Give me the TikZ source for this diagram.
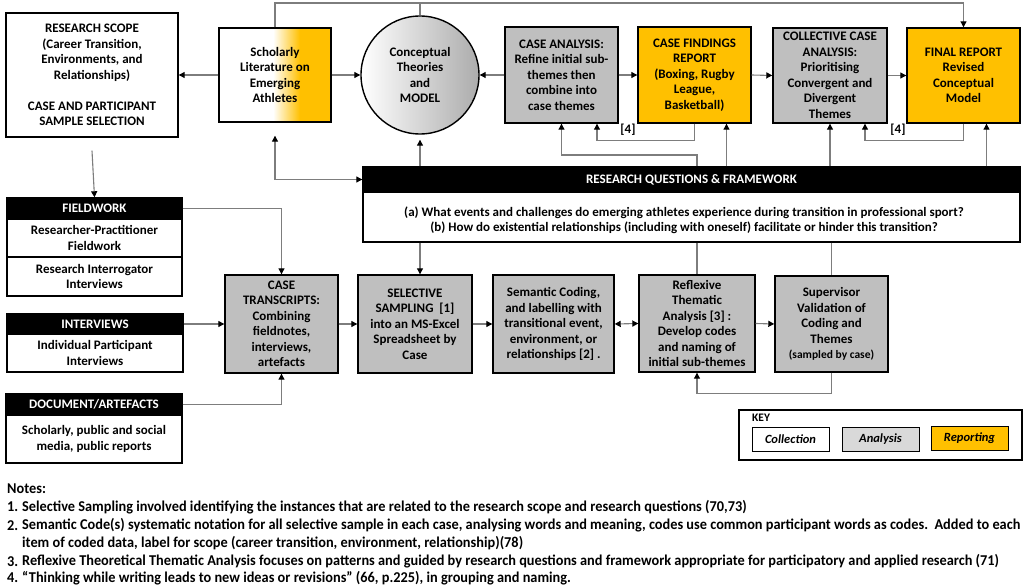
\documentclass[tikz,border=0pt]{standalone}
\usepackage{fontspec}
\setmainfont{Carlito}
\newfontfamily\notesfont[FakeStretch=0.955]{Carlito}
\usetikzlibrary{arrows.meta,calc}
\definecolor{orng}{RGB}{255,192,0}
\definecolor{gbox}{RGB}{191,191,191}
\definecolor{gkey}{RGB}{217,217,217}
\definecolor{conn}{RGB}{125,125,125}
\tikzset{
  box/.style={draw=black, line width=1.4pt, align=center, inner sep=1pt},
  hdr/.style={draw=black, line width=1.4pt, fill=black, text=white, align=center, inner sep=1pt},
  keybox/.style={draw=black, line width=1pt, minimum width=77pt, minimum height=24pt, font=\bfseries\itshape\fontsize{12.5}{14}\selectfont},
  ln/.style={draw=conn, line width=1.1pt},
  arr/.style={ln, -{Triangle[length=6pt,width=6pt,color=black]}},
  arrb/.style={ln, {Triangle[length=6pt,width=6pt,color=black]}-{Triangle[length=6pt,width=6pt,color=black]}},
  note/.style={anchor=west, inner sep=0pt, font=\notesfont\bfseries\fontsize{15}{17}\selectfont}
}
\begin{document}
\begin{tikzpicture}[x=1pt,y=-1pt, font=\bfseries\fontsize{13}{15.5}\selectfont]
\useasboundingbox (0,0) rectangle (1028,585);
\fill[white] (0,0) rectangle (1028,585);

% ---- top row ----
\node[box, minimum width=172pt, minimum height=124pt] (scope) at (92,75)
  {RESEARCH SCOPE\\(Career Transition,\\Environments, and\\Relationships)\\[15.5pt]CASE AND PARTICIPANT\\SAMPLE SELECTION};

\fill[white] (219,28) rectangle (273,122);
\shade[left color=white, right color=orng] (273,28) rectangle (300,122);
\fill[orng] (300,28) rectangle (331,122);
\node[box, minimum width=112pt, minimum height=94pt] (lit) at (275,75)
  {Scholarly\\Literature on\\Emerging\\Athletes};

\node[box, circle, minimum size=118pt, left color=white, right color=gbox!90!black] (circ) at (420,75)
  {Conceptual\\Theories\\and\\MODEL};

\node[box, fill=gbox, minimum width=113pt, minimum height=96pt] (caseA) at (561.5,75)
  {CASE ANALYSIS:\\Refine initial sub-\\themes then\\combine into\\case themes};
\node[box, fill=orng, minimum width=113pt, minimum height=96pt] (findings) at (694.5,75)
  {CASE FINDINGS\\REPORT\\(Boxing, Rugby\\League,\\Basketball)};
\node[box, fill=gbox, minimum width=114pt, minimum height=95pt] (collective) at (830,75.5)
  {COLLECTIVE CASE\\ANALYSIS:\\Prioritising\\Convergent and\\Divergent\\Themes};
\node[box, fill=orng, minimum width=113pt, minimum height=95pt] (final) at (963.5,75.5)
  {FINAL REPORT\\Revised\\Conceptual\\Model};

% ---- research questions ----
\node[box, fill=white, minimum width=657pt, minimum height=75pt] (rq) at (691.5,204.5) {};
\node[hdr, minimum width=657pt, minimum height=25pt] (rqh) at (691.5,179.5) {RESEARCH QUESTIONS \& FRAMEWORK};
\node[align=center, inner sep=0pt] (rqq) at (684,220.5)
  {(a) What events and challenges do emerging athletes experience during transition in professional sport?\\
   (b) How do existential relationships (including with oneself) facilitate or hinder this transition?};

% ---- left column ----
\node[hdr, minimum width=175pt, minimum height=21pt] (fwh) at (94.5,208.5) {FIELDWORK};
\node[box, minimum width=175pt, minimum height=38pt] (fw1) at (94.5,238) {Researcher-Practitioner\\Fieldwork};
\node[box, minimum width=175pt, minimum height=39pt] (fw2) at (94.5,276.5) {Research Interrogator\\Interviews};

\node[hdr, minimum width=176pt, minimum height=20pt] (inth) at (95,324) {INTERVIEWS};
\node[box, minimum width=176pt, minimum height=38pt] (intb) at (95,353) {Individual Participant\\Interviews};

\node[hdr, minimum width=176pt, minimum height=21pt] (doch) at (94,404.5) {DOCUMENT/ARTEFACTS};
\node[box, minimum width=176pt, minimum height=48pt] (docb) at (94,439) {Scholarly, public and social\\media, public reports};

% ---- bottom row ----
\node[box, fill=gbox, minimum width=113pt, minimum height=98pt] (trans) at (281.5,324)
  {CASE\\TRANSCRIPTS:\\Combining\\fieldnotes,\\interviews,\\artefacts};
\node[box, fill=gbox, minimum width=114pt, minimum height=98pt] (sel) at (415,324)
  {SELECTIVE\\SAMPLING~~[1]\\into an MS-Excel\\Spreadsheet by\\Case};
\node[box, fill=gbox, minimum width=121pt, minimum height=98pt] (sem) at (553.5,324)
  {Semantic Coding,\\and labelling with\\transitional event,\\environment, or\\relationships [2] .};
\node[box, fill=gbox, minimum width=116pt, minimum height=97pt] (refl) at (697,323.5)
  {Reflexive\\Thematic\\Analysis [3] :\\Develop codes\\and naming of\\initial sub-themes};
\node[box, fill=gbox, minimum width=113pt, minimum height=96pt] (sup) at (831.5,324)
  {Supervisor\\Validation of\\Coding and\\Themes\\{\fontsize{11.5}{15.5}\selectfont(sampled by case)}};

% ---- key ----
\node[draw=black, line width=1.3pt, minimum width=283pt, minimum height=50pt] (key) at (880.5,435) {};
\node[anchor=west, inner sep=0pt, font=\bfseries\fontsize{11.5}{13}\selectfont] (keyt) at (752,418) {KEY};
\node[keybox, fill=white] (kc) at (790.5,439) {Collection};
\node[keybox, fill=gkey] (ka) at (880.5,439) {Analysis};
\node[keybox, fill=orng] (kr) at (969.5,438) {Reporting};

% ---- connectors top ----
\coordinate (topy) at (0,3);
\draw[arr] (lit.north) -- (lit.north |- topy) -| (final.north);
\draw[ln] (circ.north) -- (circ.north |- topy);
\draw[arr] (lit.west) -- (scope.east);
\draw[arr] (lit.east) -- (circ.west);
\draw[arr] (caseA.west) -- (circ.east);
\draw[arr] (caseA.east) -- (findings.west);
\draw[arr] (findings.east) -- (collective.west);
\draw[arr] (collective.east) -- (final.west);

\draw[arrb, shorten <=13pt] (lit.south) |- (rqh.west);
\draw[arr, shorten >=5pt] (circ.south |- rq.north) -- (circ.south);
\coordinate (k1) at (697,155);
\draw[arr] (k1 |- rq.north) -- (k1) -| (caseA.south);
\draw[arr] (findings.south) -- ++(0,17) -| ([xshift=35.5pt]caseA.south);
\node (n4a) at (628,130) {[4]};
\draw[arr] ([xshift=32pt]findings.south |- rq.north) -- ([xshift=32pt]findings.south);
\draw[arr] (collective.south |- rq.north) -- (collective.south);
\draw[arr] (final.south) -- ++(0,17) -| ([xshift=35pt]collective.south);
\node (n4b) at (898,130) {[4]};
\draw[arr] ([xshift=23pt]final.south |- rq.north) -- ([xshift=23pt]final.south);

% ---- connectors bottom ----
\draw[arr] ([yshift=-13pt]scope.south) -- (fwh.north);
\draw[arr] (fwh.east) -| (trans.north);
\draw[arr] (inth.east) -- (trans.west);
\draw[arr] (doch.east) -| (trans.south);
\draw[arr] (trans.east) -- (sel.west);
\draw[arr] (sel.east) -- (sem.west);
\draw[arrb] (sem.east) -- (refl.west);
\draw[arr] (refl.east) -- (sup.west);
\draw[arr] (circ.south |- rq.south) -- (circ.south |- sel.north);
\draw[ln] (refl.north |- rq.south) -- (refl.north);
\draw[ln] (sup.north |- rq.south) -- (sup.north);
\draw[arr] (sup.south) -- ++(0,21) -| (refl.south);

% ---- notes ----
\node[note] (nt) at (7,489) {Notes:};
\node[note] (m1) at (7,507) {1.};
\node[note] (t1) at (22,507) {Selective Sampling involved identifying the instances that are related to the research scope and research questions (70,73)};
\node[note] (m2) at (7,525.5) {2.};
\node[note] (t2) at (22,525.5) {Semantic Code(s) systematic notation for all selective sample in each case, analysing words and meaning, codes use common participant words as codes.\ \ Added to each};
\node[note] (t2b) at (22,543.5) {item of coded data, label for scope (career transition, environment, relationship)(78)};
\node[note] (m3) at (7,561.5) {3.};
\node[note] (t3) at (22,561.5) {Reflexive Theoretical Thematic Analysis focuses on patterns and guided by research questions and framework appropriate for participatory and applied research (71)};
\node[note] (m4) at (7,578) {4.};
\node[note] (t4) at (22,578) {“Thinking while writing leads to new ideas or revisions” (66, p.225), in grouping and naming.};
\end{tikzpicture}
\end{document}
